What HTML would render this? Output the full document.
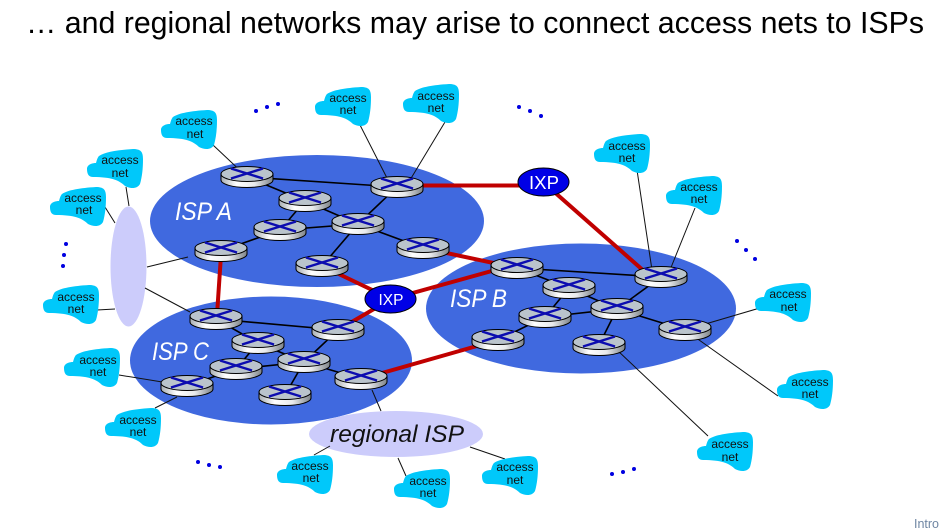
<!DOCTYPE html>
<html><head><meta charset="utf-8"><style>
html,body{margin:0;padding:0;background:#fff;overflow:hidden}
svg{display:block}
text{font-family:"Liberation Sans",sans-serif}
.c{font-size:12px;text-anchor:middle;fill:#111}
.i{stroke:#000;stroke-width:1.6;fill:none}
.a{stroke:#111;stroke-width:1;fill:none}
.r{stroke:#c00000;stroke-width:4;fill:none}
.d{stroke:#0000e0;stroke-width:4;stroke-linecap:round;fill:none}
</style></head><body>
<svg width="939" height="532" viewBox="0 0 939 532" xmlns="http://www.w3.org/2000/svg">
<defs>
<linearGradient id="g" x1="0" x2="1" y1="0" y2="0"><stop offset="0" stop-color="#a8aeb2"/><stop offset=".3" stop-color="#fff"/><stop offset=".65" stop-color="#e8eaec"/><stop offset="1" stop-color="#7d8388"/></linearGradient>
<g id="R">
<path d="M-26,-3V3A26,7.500 0 0 0 26,3V-3Z" fill="url(#g)" stroke="#000" stroke-width="1"/>
<ellipse cx="0" cy="-3" rx="26" ry="7.500" fill="#bac4cc" stroke="#000" stroke-width="1"/>
<path d="M-16,1.500L16,-8.500M-16,-8.500L16,1.500" stroke="#0c0cb0" stroke-width="2.400" fill="none"/>
</g>
<path id="C" d="M12,7C18,3 30,1 46,0C54,0 56,3 56,10C56,20 55,28 53,35C50,40 44,40 38,37C32,31 24,28 6,28C0,28 0,22 0,19C1,15 6,14 9,14C10,10 11,8 12,7Z" fill="#00c8fa"/>
</defs>
<text x="26" y="33" font-size="31" fill="#000" textLength="898" lengthAdjust="spacingAndGlyphs">… and regional networks may arise to connect access nets to ISPs</text>
<ellipse cx="317" cy="221" rx="167" ry="66" fill="#4069df"/>
<ellipse cx="581" cy="308.500" rx="155" ry="65" fill="#4069df"/>
<ellipse cx="271" cy="360.500" rx="141" ry="64" fill="#4069df"/>
<ellipse cx="128.500" cy="266.500" rx="18" ry="60" fill="#ccccfb"/>
<ellipse cx="396" cy="434" rx="87" ry="23" fill="#ccccfb"/>
<path class="i" d="M247,177L397,187M247,177L305,201L358,224M305,201L280,230L358,224M280,230L221,251M397,187L358,224L423,248M358,224L322,266"/>
<path class="i" d="M517,268L661,277M517,268L569,288L617,309L661,277M569,288L545,317L617,309L685,330M545,317L498,340M617,309L599,345"/>
<path class="i" d="M216,319L338,330L304,362L361,379M216,319L258,343L304,362L236,369L187,386M258,343L236,369M304,362L285,395"/>
<path class="a" d="M213,145L247,177M360,125L388,180M445,122L410,180M126,187L129,206M105,207L115,223M97,310L115,309M147,267L188,257M145,288L190,312M119,375L187,386M155,408L177,397M372,390L381,411M330,446L314,455M398,458L406,476M470,447L505,459M637,170L652,270M695,208L670,270M685,330L770,305M685,330L778,396M617,350L708,436"/>
<path class="r" d="M397,185.500H543M543,182L645,272M221,255L217,315M322,266L391,299L517,264M423,248L517,268M391,299L338,330M361,379L498,340"/>
<use href="#R" x="247" y="177"/><use href="#R" x="397" y="187"/><use href="#R" x="305" y="201"/><use href="#R" x="280" y="230"/><use href="#R" x="358" y="224"/><use href="#R" x="423" y="248"/><use href="#R" x="221" y="251"/><use href="#R" x="322" y="266"/>
<use href="#R" x="517" y="268"/><use href="#R" x="569" y="288"/><use href="#R" x="661" y="277"/><use href="#R" x="617" y="309"/><use href="#R" x="545" y="317"/><use href="#R" x="685" y="330"/><use href="#R" x="599" y="345"/><use href="#R" x="498" y="340"/>
<use href="#R" x="216" y="319"/><use href="#R" x="338" y="330"/><use href="#R" x="258" y="343"/><use href="#R" x="304" y="362"/><use href="#R" x="236" y="369"/><use href="#R" x="361" y="379"/><use href="#R" x="285" y="395"/><use href="#R" x="187" y="386"/>
<ellipse cx="543.500" cy="182" rx="25.500" ry="14" fill="#0000e6" stroke="#000" stroke-width="1"/>
<ellipse cx="390.500" cy="299" rx="25.500" ry="14" fill="#0000e6" stroke="#000" stroke-width="1"/>
<text x="544" y="189" font-size="18" fill="#fff" text-anchor="middle" textLength="30" lengthAdjust="spacingAndGlyphs">IXP</text>
<text x="391" y="305" font-size="16" fill="#fff" text-anchor="middle" textLength="25" lengthAdjust="spacingAndGlyphs">IXP</text>
<text x="175" y="220" font-size="25" font-style="italic" fill="#fff" textLength="57" lengthAdjust="spacingAndGlyphs">ISP A</text>
<text x="450" y="307" font-size="25" font-style="italic" fill="#fff" textLength="57" lengthAdjust="spacingAndGlyphs">ISP B</text>
<text x="152" y="360" font-size="25" font-style="italic" fill="#fff" textLength="57" lengthAdjust="spacingAndGlyphs">ISP C</text>
<text x="330" y="442" font-size="24" font-style="italic" fill="#111" textLength="134" lengthAdjust="spacingAndGlyphs">regional ISP</text>
<use href="#C" x="161" y="110"/><text class="c" x="194" y="125">access</text><text class="c" x="195" y="138">net</text>
<use href="#C" x="315" y="87"/><text class="c" x="348" y="102">access</text><text class="c" x="348" y="114">net</text>
<use href="#C" x="403" y="84"/><text class="c" x="436" y="100">access</text><text class="c" x="436" y="112">net</text>
<use href="#C" x="87" y="149"/><text class="c" x="120" y="164">access</text><text class="c" x="120" y="177">net</text>
<use href="#C" x="50" y="187"/><text class="c" x="83" y="202">access</text><text class="c" x="84" y="214">net</text>
<use href="#C" x="43" y="285"/><text class="c" x="76" y="301">access</text><text class="c" x="76" y="313">net</text>
<use href="#C" x="64" y="348"/><text class="c" x="98" y="364">access</text><text class="c" x="98" y="376">net</text>
<use href="#C" x="105" y="408"/><text class="c" x="138" y="424">access</text><text class="c" x="138" y="436">net</text>
<use href="#C" x="277" y="455"/><text class="c" x="310" y="470">access</text><text class="c" x="311" y="482">net</text>
<use href="#C" x="394" y="469"/><text class="c" x="428" y="485">access</text><text class="c" x="428" y="497">net</text>
<use href="#C" x="482" y="456"/><text class="c" x="515" y="471">access</text><text class="c" x="515" y="484">net</text>
<use href="#C" x="594" y="134"/><text class="c" x="627" y="150">access</text><text class="c" x="627" y="162">net</text>
<use href="#C" x="666" y="176"/><text class="c" x="699" y="191">access</text><text class="c" x="699" y="203">net</text>
<use href="#C" x="755" y="283"/><text class="c" x="788" y="298">access</text><text class="c" x="789" y="311">net</text>
<use href="#C" x="777" y="370"/><text class="c" x="810" y="386">access</text><text class="c" x="810" y="398">net</text>
<use href="#C" x="697" y="432"/><text class="c" x="730" y="448">access</text><text class="c" x="730" y="461">net</text>
<path class="d" d="M256,111h.01M267,107h.01M278,104h.01M519,107h.01M530,111h.01M541,116h.01M66,244h.01M64,255h.01M63,266h.01M737,241h.01M746,250h.01M755,259h.01M198,462h.01M209,465h.01M220,467h.01M612,474h.01M623,472h.01M634,469h.01"/>
<text x="914" y="528" font-size="12.500" fill="#6f86a3">Intro</text>
</svg>
</body></html>
